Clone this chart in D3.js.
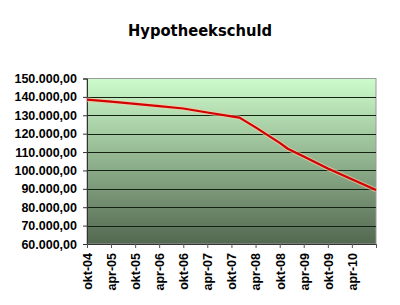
<!DOCTYPE html>
<html>
<head>
<meta charset="utf-8">
<script src="https://cdn.jsdelivr.net/npm/d3@7"></script>
<style>
  html, body { margin: 0; padding: 0; background: #ffffff; }
  svg { display: block; }
</style>
</head>
<body>
<svg id="chart" width="400" height="305"></svg>
<script>
// Remaining mortgage debt (EUR), month by month
const dates = ["2004-10", "2005-04", "2005-10", "2006-04", "2006-10", "2007-04",
               "2007-10", "2007-12", "2008-04", "2008-10", "2008-12", "2009-04",
               "2009-10", "2010-04", "2010-10"];
const debt = [138500, 137400, 136200, 135000, 133700, 131500,
              129400, 128700, 123400, 115000, 111800, 107600,
              101100, 95200, 89300];

// Axis labels every six months
const tickDates = ["2004-10", "2005-04", "2005-10", "2006-04", "2006-10", "2007-04",
                   "2007-10", "2008-04", "2008-10", "2009-04", "2009-10", "2010-04", "2010-10"];
const tickLabels = ["okt-04", "apr-05", "okt-05", "apr-06", "okt-06", "apr-07",
                    "okt-07", "apr-08", "okt-08", "apr-09", "okt-09", "apr-10", ""];
const yTicks = [60000, 70000, 80000, 90000, 100000, 110000, 120000, 130000, 140000, 150000];

const parse = d3.timeParse("%Y-%m");
const svg = d3.select("#chart");

const plotLeft = 87, plotRight = 376, plotTop = 78.5, plotBottom = 244;

const x = d3.scaleTime()
  .domain([parse(tickDates[0]), parse(tickDates[tickDates.length - 1])])
  .range([plotLeft, plotRight]);
const y = d3.scaleLinear().domain([60000, 150000]).range([plotBottom, plotTop]);

// Title
svg.append("text")
  .attr("x", 200).attr("y", 36)
  .attr("text-anchor", "middle")
  .attr("font-family", "'Comic Sans MS', 'DejaVu Sans', sans-serif")
  .attr("font-weight", "bold")
  .attr("font-size", 16)
  .attr("textLength", 144)
  .attr("lengthAdjust", "spacingAndGlyphs")
  .attr("fill", "#000")
  .text("Hypotheekschuld");

// Plot background gradient
const defs = svg.append("defs");
const grad = defs.append("linearGradient")
  .attr("id", "bg").attr("x1", 0).attr("y1", 0).attr("x2", 0).attr("y2", 1);
grad.append("stop").attr("offset", "0%").attr("stop-color", "#cdfccb");
grad.append("stop").attr("offset", "100%").attr("stop-color", "#536850");

svg.append("rect")
  .attr("x", plotLeft).attr("y", plotTop)
  .attr("width", plotRight - plotLeft).attr("height", plotBottom - plotTop)
  .attr("fill", "url(#bg)")
  .attr("stroke", "#9a9a9a").attr("stroke-width", 1);

// Gridlines
svg.append("g")
  .selectAll("line")
  .data(yTicks.filter(v => v > 60000 && v < 150000))
  .join("line")
  .attr("x1", plotLeft).attr("x2", plotRight)
  .attr("y1", d => Math.round(y(d)) + 0.5).attr("y2", d => Math.round(y(d)) + 0.5)
  .attr("stroke", "#142214").attr("stroke-width", 1);

// Y axis
const yAxis = svg.append("g")
  .attr("transform", `translate(${plotLeft},0)`)
  .call(d3.axisLeft(y).tickValues(yTicks).tickSize(4).tickPadding(6)
    .tickFormat(d => d3.format(",.2f")(d).replace(/,/g, "#").replace(".", ",").replace(/#/g, ".")));
yAxis.select(".domain").attr("stroke", "#333");
yAxis.selectAll(".tick line").attr("stroke", "#333");
yAxis.selectAll("text")
  .attr("font-family", "'Liberation Sans', Arial, sans-serif")
  .attr("font-weight", "bold").attr("font-size", 12.5).attr("fill", "#000");

// X axis
const xAxis = svg.append("g")
  .attr("transform", `translate(0,${plotBottom})`)
  .call(d3.axisBottom(x).tickValues(tickDates.map(parse)).tickSize(4).tickPadding(3)
    .tickFormat((d, i) => tickLabels[i]));
xAxis.select(".domain").attr("stroke", "#333");
xAxis.selectAll(".tick line").attr("stroke", "#555");
xAxis.selectAll("text")
  .attr("font-family", "'Liberation Sans', Arial, sans-serif")
  .attr("font-weight", "bold").attr("font-size", 12.5).attr("fill", "#000")
  .attr("text-anchor", "end")
  .attr("transform", "rotate(-90)")
  .attr("dy", "0.35em")
  .attr("x", -9).attr("y", 0);

// Debt line
const line = d3.line()
  .x((d, i) => x(parse(dates[i])))
  .y(d => y(d));

svg.append("path")
  .datum(debt)
  .attr("d", line)
  .attr("fill", "none")
  .attr("stroke", "#f4c9a8").attr("stroke-width", 4.5).attr("opacity", 0.6)
  .attr("stroke-linejoin", "round");
svg.append("path")
  .datum(debt)
  .attr("d", line)
  .attr("fill", "none")
  .attr("stroke", "#d40000").attr("stroke-width", 2.2)
  .attr("stroke-linejoin", "round");
</script>
</body>
</html>
